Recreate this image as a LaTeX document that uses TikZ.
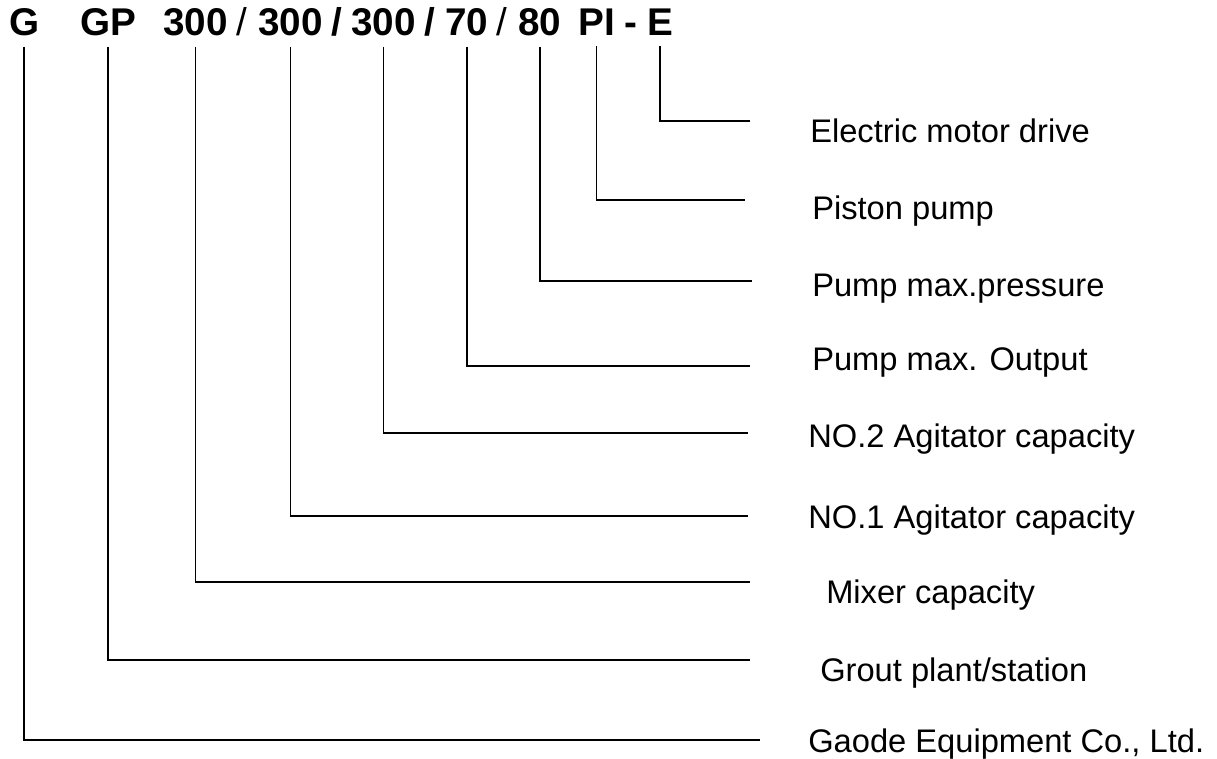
\documentclass[tikz,border=0pt]{standalone}
\usepackage{fontspec}
\setmainfont{Liberation Sans}
\usetikzlibrary{positioning,calc}
\definecolor{ink}{HTML}{000000}
\tikzset{
  code/.style={font=\bfseries\fontsize{29}{29}\selectfont, anchor=base west, inner xsep=0pt, inner ysep=8.25pt},
  slash/.style={code, font=\fontsize{29}{29}\selectfont},
  desc/.style={font=\fontsize{24.5}{24.5}\selectfont, anchor=base west, inner sep=0pt},
  lead/.style={draw=ink, line width=1.3pt}
}

\begin{document}
\begin{tikzpicture}[x=0.75pt, y=-0.75pt]
  \useasboundingbox[fill=white] (0,0) rectangle (1217,758);
  % model code
  \node[code] (cG)  at (9,35)   {G};
  \node[code] (cGP) at (80,35)  {GP};
  \node[code] (cMx) at (163,35) {300};
  \node[slash] (s1) at (236,35) {/};
  \node[code] (cA1) at (258,35) {300};
  \node[code] (s2)  at (331,35) {/};
  \node[code] (cA2) at (351,35) {300};
  \node[code] (s3)  at (424,35) {/};
  \node[code] (cQ)  at (445,35) {70};
  \node[slash] (s4) at (496,35) {/};
  \node[code] (cP)  at (518,35) {80};
  \node[code] (cPI) at (578,35) {PI};
  \node[code] (s5)  at (624,35) {-};
  \node[code] (cE)  at (647,35) {E};
  % meanings
  \node[desc] (lE)  at (810,142) {Electric motor drive};
  \node[desc] (lPI) at (812,219) {Piston pump};
  \node[desc] (lP)  at (812,296) {Pump max.pressure};
  \node[desc] (lQ)  at (812,370) {Pump max. Output};
  \node[desc] (lA2) at (808,447) {NO.2 Agitator capacity};
  \node[desc] (lA1) at (808,528) {NO.1 Agitator capacity};
  \node[desc] (lMx) at (826,603) {Mixer capacity};
  \node[desc] (lGP) at (820,681) {Grout plant/station};
  \node[desc] (lG)  at (808,752) {Gaode Equipment Co., Ltd.};
  % line ends
  \coordinate (eE)  at (750,121);
  \coordinate (ePI) at (745,200);
  \coordinate (eP)  at (752,281);
  \coordinate (eQ)  at (750,366);
  \coordinate (eA2) at (748,433);
  \coordinate (eA1) at (748,516);
  \coordinate (eMx) at (750,582);
  \coordinate (eGP) at (750,660);
  \coordinate (eG)  at (760,740);
  \draw[lead] (cE.south)  |- (eE);
  \draw[lead] (cPI.south) |- (ePI);
  \draw[lead] (cP.south)  |- (eP);
  \draw[lead] (cQ.south)  |- (eQ);
  \draw[lead] (cA2.south) |- (eA2);
  \draw[lead] (cA1.south) |- (eA1);
  \draw[lead] (cMx.south) |- (eMx);
  \draw[lead] (cGP.south) |- (eGP);
  \draw[lead] (cG.south)  |- (eG);
\end{tikzpicture}
\end{document}
